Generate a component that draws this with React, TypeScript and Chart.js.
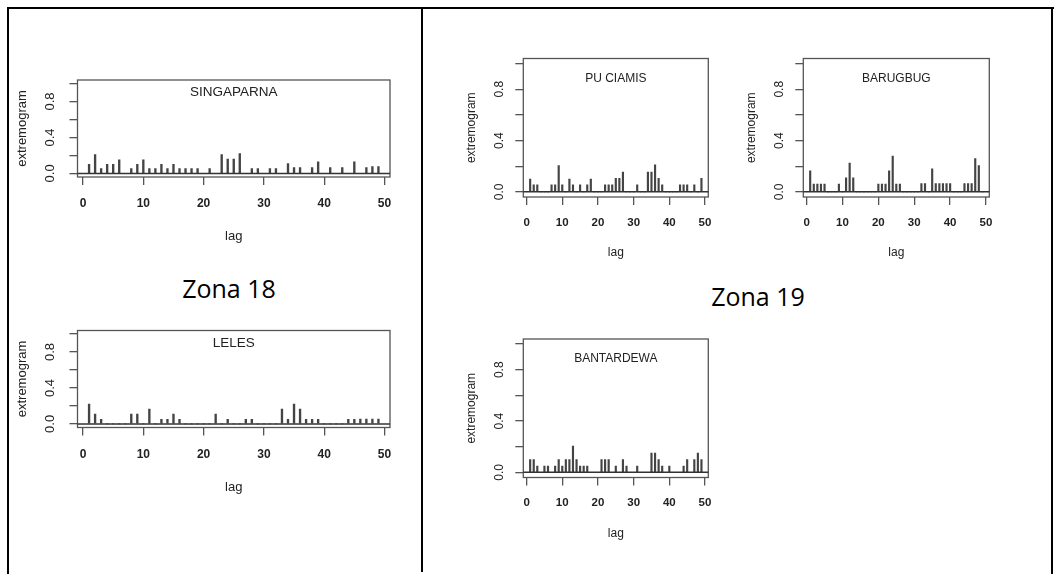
import React, { useEffect, useRef } from 'react';
import { Chart, registerables } from 'chart.js';

Chart.register(...registerables);

// ---------- data ----------
const lags = [
  1, 2, 3, 4, 5, 6, 7, 8, 9, 10, 11, 12, 13, 14, 15, 16, 17, 18, 19, 20, 21, 22, 23, 24, 25,
  26, 27, 28, 29, 30, 31, 32, 33, 34, 35, 36, 37, 38, 39, 40, 41, 42, 43, 44, 45, 46, 47, 48, 49,
];
const xTicks = [0, 10, 20, 30, 40, 50];
const yTicks = [0, 0.2, 0.4, 0.6, 0.8, 1.0];
const yTickLabels = ['0.0', '', '0.4', '', '0.8', ''];
const xAxisTitle = 'lag';
const yAxisTitle = 'extremogram';
const zoneLabels = ['Zona 18', 'Zona 19'];

const singaparna = [
  0.10, 0.21, 0.055, 0.10, 0.10, 0.15, 0, 0.055, 0.10, 0.15,
  0.055, 0.055, 0.10, 0.055, 0.10, 0.055, 0.055, 0.055, 0.055, 0,
  0.055, 0, 0.21, 0.16, 0.16, 0.22, 0, 0.055, 0.055, 0,
  0.055, 0.055, 0, 0.11, 0.065, 0.065, 0, 0.065, 0.13, 0,
  0.065, 0, 0.065, 0, 0.13, 0, 0.065, 0.075, 0.075,
];
const leles = [
  0.22, 0.11, 0.05, 0, 0, 0, 0, 0.11, 0.11, 0,
  0.165, 0, 0.05, 0.05, 0.11, 0.05, 0, 0, 0, 0,
  0, 0.11, 0, 0.05, 0, 0, 0.05, 0.05, 0, 0,
  0, 0, 0.165, 0.05, 0.22, 0.165, 0.05, 0.05, 0.05, 0,
  0, 0, 0, 0.05, 0.05, 0.055, 0.055, 0.055, 0.055,
];
const puCiamis = [
  0.10, 0.055, 0.055, 0, 0, 0, 0.055, 0.055, 0.205, 0.055,
  0, 0.10, 0.055, 0, 0.055, 0, 0.055, 0.10, 0, 0,
  0, 0.055, 0.055, 0.055, 0.105, 0.105, 0.155, 0, 0, 0,
  0.055, 0, 0, 0.155, 0.155, 0.21, 0.105, 0.055, 0, 0,
  0, 0, 0.055, 0.055, 0.055, 0, 0.055, 0, 0.105,
];
const barugbug = [
  0.165, 0.06, 0.06, 0.06, 0.06, 0, 0, 0, 0.06, 0,
  0.11, 0.225, 0.11, 0, 0, 0, 0, 0, 0, 0.06,
  0.06, 0.06, 0.165, 0.28, 0.06, 0.06, 0, 0, 0, 0,
  0, 0.065, 0.065, 0, 0.18, 0.065, 0.065, 0.065, 0.065, 0.065,
  0, 0, 0, 0.065, 0.065, 0.065, 0.26, 0.205, 0,
];
const bantardewa = [
  0.10, 0.10, 0.05, 0, 0.05, 0.05, 0, 0.05, 0.10, 0.05,
  0.10, 0.10, 0.205, 0.10, 0.05, 0.05, 0.05, 0, 0, 0,
  0.10, 0.10, 0.10, 0, 0.05, 0, 0.10, 0.05, 0, 0,
  0.05, 0, 0, 0, 0.15, 0.15, 0.10, 0.05, 0, 0.05,
  0, 0, 0, 0.05, 0.10, 0, 0.10, 0.15, 0.10,
];

// ---------- layout / style ----------
const FONT = '"Liberation Sans", Arial, sans-serif';
const TEXT = '#222';
const LINE = '#555';
const BAR = '#444';

type Style = {
  fs: number; xfs: number; titleFs: number; titleDy: number; tickPad: number; yTickDx: number;
  yTitleDx: number; xTitleDy: number; barW: number;
};
const LEFT: Style = { fs: 13, xfs: 12, titleFs: 13.5, titleDy: 12.7, tickPad: 11.8, yTickDx: 27.5, yTitleDx: 55, xTitleDy: 59.7, barW: 1.7 };
const RIGHT: Style = { fs: 12, xfs: 11.5, titleFs: 12, titleDy: 20, tickPad: 10.8, yTickDx: 23.3, yTitleDx: 51.6, xTitleDy: 55.7, barW: 1.5 };

type Box = { l: number; t: number; r: number; b: number };
type PanelSpec = { name: string; values: number[]; box: Box; style: Style };

const panels: PanelSpec[] = [
  { name: 'SINGAPARNA', values: singaparna, box: { l: 77.5, t: 80, r: 390, b: 177 }, style: LEFT },
  { name: 'LELES', values: leles, box: { l: 77.5, t: 330.5, r: 390, b: 427.5 }, style: LEFT },
  { name: 'PU CIAMIS', values: puCiamis, box: { l: 523.3, t: 58.5, r: 708.3, b: 197 }, style: RIGHT },
  { name: 'BARUGBUG', values: barugbug, box: { l: 803.3, t: 58.5, r: 989.3, b: 197 }, style: RIGHT },
  { name: 'BANTARDEWA', values: bantardewa, box: { l: 523.3, t: 339, r: 708.3, b: 477.5 }, style: RIGHT },
];

const AX_W = 75;
const AX_H = 75;
const PAD_T = 10;
const PAD_R = 14;

function Panel({ spec }: { spec: PanelSpec }) {
  const ref = useRef<HTMLCanvasElement | null>(null);
  const { box, style } = spec;
  const cLeft = Math.floor(box.l - AX_W);
  const cTop = Math.floor(box.t - PAD_T);
  const padL = box.l - AX_W - cLeft;
  const padT = box.t - cTop;
  const width = Math.ceil(box.r - cLeft + PAD_R);
  const height = Math.ceil(box.b - cTop + AX_H);
  const padR = width - (box.r - cLeft);
  const padB = height - (box.b - cTop) - AX_H;

  useEffect(() => {
    if (!ref.current) return;
    const s = style;
    const decor = {
      id: 'decor',
      afterDatasetsDraw(chart: any) {
        const { ctx, chartArea: a, scales } = chart;
        const ys = scales.y;
        ctx.save();
        ctx.strokeStyle = LINE;
        ctx.lineWidth = 1.3;
        ctx.strokeRect(a.left, a.top, a.right - a.left, a.bottom - a.top);
        const y0 = ys.getPixelForValue(0);
        ctx.strokeStyle = '#333';
        ctx.lineWidth = 1.5;
        ctx.beginPath();
        ctx.moveTo(a.left, y0);
        ctx.lineTo(a.right, y0);
        ctx.stroke();

        ctx.fillStyle = TEXT;
        ctx.textAlign = 'center';
        ctx.textBaseline = 'middle';
        ctx.font = `${s.fs}px ${FONT}`;
        yTicks.forEach((v, i) => {
          const lab = yTickLabels[i];
          if (!lab) return;
          const py = ys.getPixelForValue(v);
          ctx.save();
          ctx.translate(a.left - s.yTickDx, py);
          ctx.rotate(-Math.PI / 2);
          ctx.fillText(lab, 0, 0);
          ctx.restore();
        });
        ctx.save();
        ctx.translate(a.left - s.yTitleDx, (a.top + a.bottom) / 2);
        ctx.rotate(-Math.PI / 2);
        ctx.fillText(yAxisTitle, 0, 0);
        ctx.restore();
        ctx.fillText(xAxisTitle, (a.left + a.right) / 2, a.bottom + s.xTitleDy);
        ctx.font = `${s.titleFs}px ${FONT}`;
        ctx.fillText(spec.name, (a.left + a.right) / 2, a.top + s.titleDy);
        ctx.restore();
      },
    };

    const chart = new Chart(ref.current, {
      type: 'bar',
      data: {
        datasets: [
          {
            data: lags.map((x, i) => ({ x, y: spec.values[i] })),
            backgroundColor: BAR,
            borderWidth: 0,
            barThickness: s.barW,
          } as any,
        ],
      },
      options: {
        animation: false,
        responsive: false,
        maintainAspectRatio: false,
        devicePixelRatio: 1,
        layout: { padding: { left: padL, top: padT, right: padR, bottom: padB } },
        plugins: { legend: { display: false }, tooltip: { enabled: false }, title: { display: false } },
        scales: {
          x: {
            type: 'linear',
            min: -0.92,
            max: 50.92,
            offset: false,
            afterBuildTicks: (sc: any) => {
              sc.ticks = xTicks.map((v) => ({ value: v }));
            },
            afterFit: (sc: any) => {
              sc.height = AX_H;
              sc.paddingLeft = 0;
              sc.paddingRight = 0;
            },
            grid: { offset: false, drawOnChartArea: false, drawTicks: true, tickLength: 8, color: LINE, lineWidth: 1.3 },
            border: { display: false },
            ticks: {
              autoSkip: false,
              maxRotation: 0,
              minRotation: 0,
              padding: s.tickPad,
              color: TEXT,
              font: { family: FONT, size: s.xfs, weight: 'bold' },
              callback: (v: any) => String(v),
            },
          },
          y: {
            type: 'linear',
            min: -0.04,
            max: 1.04,
            afterBuildTicks: (sc: any) => {
              sc.ticks = yTicks.map((v) => ({ value: v }));
            },
            afterFit: (sc: any) => {
              sc.width = AX_W;
              sc.paddingTop = 0;
              sc.paddingBottom = 0;
            },
            grid: { drawOnChartArea: false, drawTicks: true, tickLength: 8, color: LINE, lineWidth: 1.3 },
            border: { display: false },
            ticks: { autoSkip: false, callback: () => '', font: { family: FONT, size: s.fs } },
          },
        },
      } as any,
      plugins: [decor],
    });
    return () => chart.destroy();
  }, []);

  return (
    <canvas
      ref={ref}
      width={width}
      height={height}
      style={{ position: 'absolute', left: cLeft, top: cTop, width, height }}
    />
  );
}

const lineStyle = (l: number, t: number, w: number, h: number): React.CSSProperties => ({
  position: 'absolute', left: l, top: t, width: w, height: h, background: '#000',
});

export default function App() {
  return (
    <div style={{ position: 'absolute', left: 0, top: 0, width: 1062, height: 574, background: '#fff', overflow: 'hidden' }}>
      <div style={lineStyle(7, 7, 1047, 2)} />
      <div style={lineStyle(7, 7, 2, 567)} />
      <div style={lineStyle(421, 7, 2, 565)} />
      <div style={lineStyle(1051, 7, 2, 567)} />
      {panels.map((p) => (
        <Panel key={p.name} spec={p} />
      ))}
      <div
        style={{
          position: 'absolute', left: 229, top: 288, transform: 'translate(-50%, -50%)',
          font: '25px "Open Sans", sans-serif', color: '#000', whiteSpace: 'nowrap', lineHeight: 1,
        }}
      >
        {zoneLabels[0]}
      </div>
      <div
        style={{
          position: 'absolute', left: 758, top: 296, transform: 'translate(-50%, -50%)',
          font: '25px "Open Sans", sans-serif', color: '#000', whiteSpace: 'nowrap', lineHeight: 1,
        }}
      >
        {zoneLabels[1]}
      </div>
    </div>
  );
}
